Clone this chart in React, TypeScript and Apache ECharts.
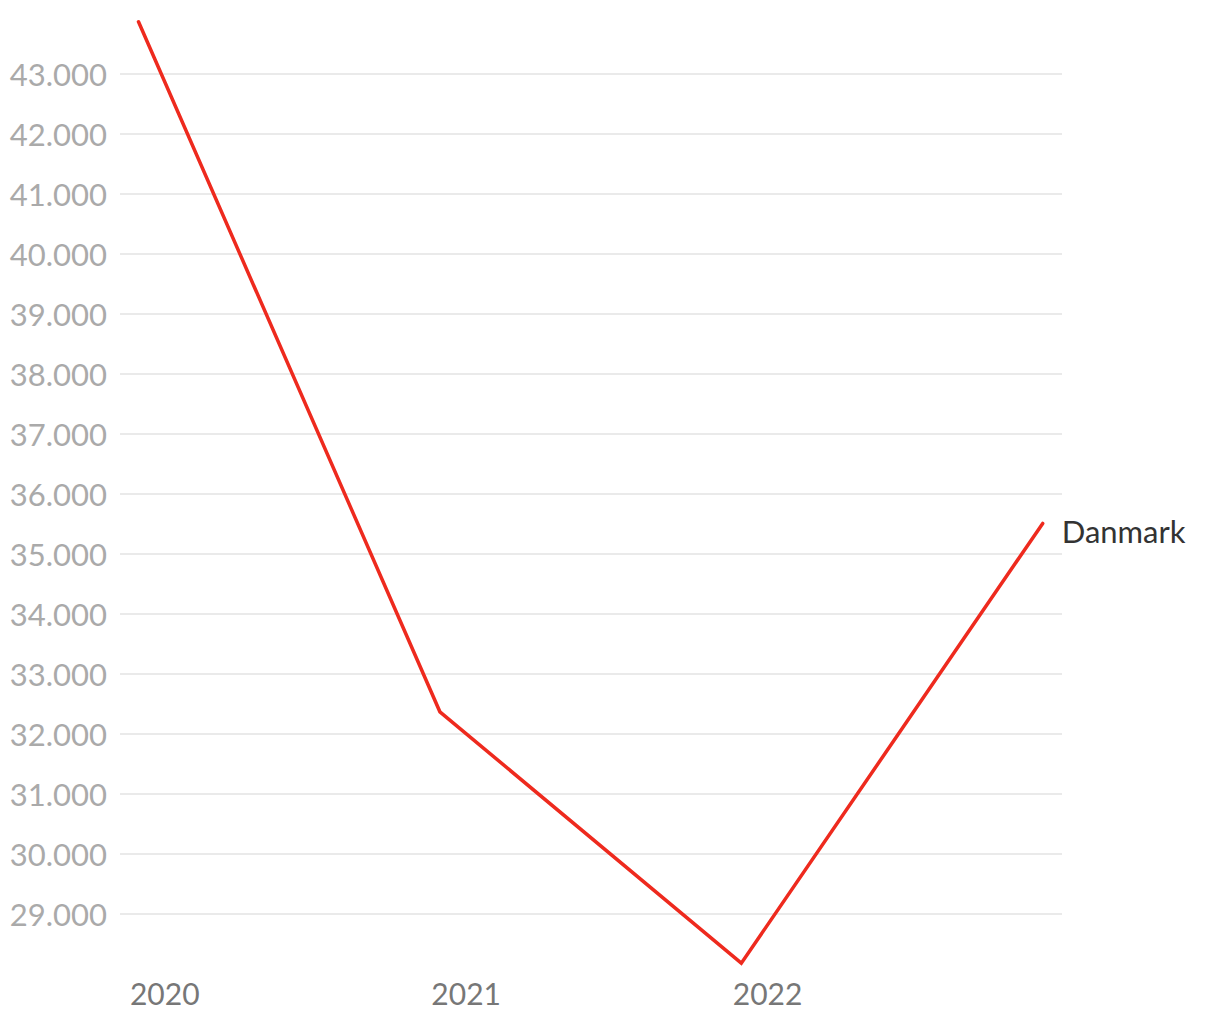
import React, { useEffect, useRef } from "react";
import * as echarts from "echarts";

const years = [2020, 2021, 2022, 2023];
const values = [43870, 32370, 28180, 35510];
const seriesName = "Danmark";
const labelYears = [2020, 2021, 2022];

export default function App() {
  const ref = useRef<HTMLDivElement>(null);
  useEffect(() => {
    document.body.style.margin = "0";
    const chart = echarts.init(ref.current!, null, { renderer: "svg" });
    chart.setOption({
      animation: false,
      backgroundColor: "#ffffff",
      grid: { left: 120, right: 158, top: 14, bottom: 46, containLabel: false },
      xAxis: {
        type: "value",
        min: 2019.9386,
        max: 2023.064,
        axisLine: { show: false },
        axisTick: { show: false },
        splitLine: { show: false },
        axisLabel: {
          customValues: labelYears.map((y) => y + 0.087),
          formatter: (v: number) => String(Math.floor(v)),
          color: "#777777",
          fontFamily: "Lato",
          fontSize: 30,
          margin: 4,
        },
      },
      yAxis: {
        type: "value",
        min: 28000,
        max: 44000,
        interval: 1000,
        axisLine: { show: false },
        axisTick: { show: false },
        splitLine: {
          show: true,
          showMinLine: false,
          showMaxLine: false,
          lineStyle: { color: "#e3e3e3", width: 1.5 },
        },
        axisLabel: {
          showMinLabel: false,
          showMaxLabel: false,
          formatter: (v: number) => (v / 1000).toFixed(3),
          color: "#aaaaaa",
          fontFamily: "Lato",
          fontSize: 31,
          margin: 13,
        },
      },
      series: [
        {
          name: seriesName,
          type: "line",
          data: years.map((y, i) => [y, values[i]]),
          showSymbol: false,
          lineStyle: { color: "#ee2a1e", width: 3.5, cap: "round", join: "miter" },
          itemStyle: { color: "#ee2a1e" },
          endLabel: {
            show: true,
            formatter: "{a}",
            color: "#333333",
            fontFamily: "Lato",
            fontSize: 31,
            distance: 19,
            offset: [0, 8],
          },
        },
      ],
    });
    return () => chart.dispose();
  }, []);
  return <div ref={ref} style={{ width: 1220, height: 1020 }} />;
}
